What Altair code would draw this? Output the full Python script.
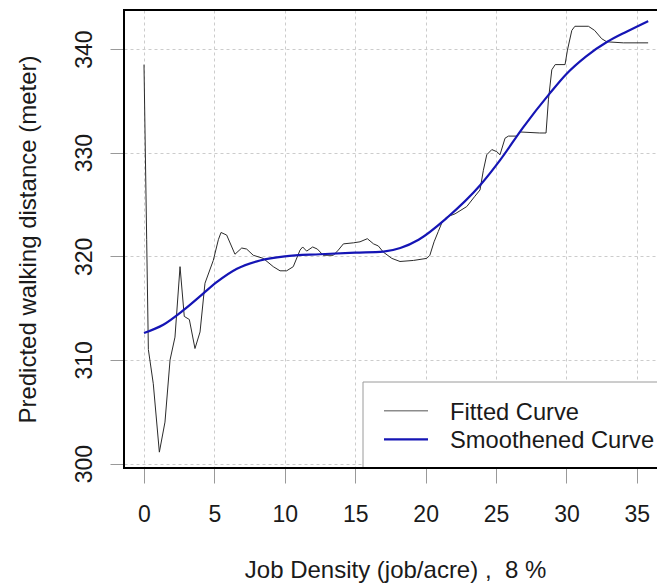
import altair as alt
import pandas as pd

# ---- data ----
fit_x = [0, 0.19, 0.31, 0.66, 1.09, 1.49, 1.85, 2.2, 2.56, 2.86, 3.22, 3.62, 3.98, 4.33,
         4.92, 5.28, 5.47, 5.87, 6.46, 6.94, 7.29, 7.76, 8.47, 9.18, 9.66, 10.13, 10.6,
         11.08, 11.27, 11.55, 11.98, 12.31, 12.73, 13.45, 13.8, 14.16, 14.87, 15.34, 15.86,
         16.3, 16.64, 17.0, 17.6, 18.18, 19.13, 20.08, 20.3, 20.6, 20.9, 21.14, 21.5, 22.09,
         22.92, 23.5, 23.86, 24.1, 24.34, 24.7, 25.05, 25.28, 25.64, 25.88, 26.46, 26.7,
         28.1, 28.55, 28.72, 28.96, 29.2, 29.9, 30.07, 30.38, 30.6, 31.56, 32.0, 32.5,
         32.86, 34.04, 35.8]
fit_y = [338.5, 321.6, 311.0, 307.7, 301.1, 304.0, 310.0, 312.2, 319.0, 314.2, 313.9, 311.1,
         312.7, 317.4, 319.6, 321.6, 322.3, 322.05, 320.2, 320.8, 320.7, 320.1, 319.8, 319.0,
         318.6, 318.6, 319.0, 320.6, 320.9, 320.5, 320.9, 320.7, 320.1, 320.1, 320.6, 321.2,
         321.3, 321.4, 321.7, 321.2, 321.0, 320.4, 319.8, 319.5, 319.6, 319.8, 320.1, 321.4,
         322.4, 323.2, 323.8, 324.1, 324.8, 325.8, 326.4, 328.3, 329.8, 330.3, 330.1, 329.8,
         331.4, 331.6, 331.6, 332.0, 331.9, 331.9, 335.1, 338.0, 338.5, 338.5, 339.9, 341.8,
         342.2, 342.2, 341.8, 341.0, 340.7, 340.6, 340.6]

smooth_x = [0, 1.37, 2.8, 4.2, 5.16, 6.6, 8.24, 10, 12.5, 15, 17, 18.2, 19.5, 21.5, 23.9,
            25.3, 26.9, 28.8, 30, 31.4, 32.9, 34.3, 35.8]
smooth_y = [312.6, 313.4, 314.8, 316.4, 317.5, 318.8, 319.6, 320.0, 320.2, 320.35, 320.45,
            320.8, 321.6, 323.7, 326.9, 329.3, 332.4, 335.7, 337.6, 339.3, 340.7, 341.7, 342.7]

x_ticks = [0, 5, 10, 15, 20, 25, 30, 35]
y_ticks = [300, 310, 320, 330, 340]
legend_labels = ["Fitted Curve", "Smoothened Curve"]
x_title = "Job Density (job/acre) ,\u00a0 8 %"
y_title = "Predicted walking distance (meter)"

# ---- styling ----
W, H = 533, 458
FONT = "Liberation Sans"
TXT = "#1a1a1a"
FIT_COLOR = "#2b2b2b"
SMOOTH_COLOR = "#1515b5"
LEG_FIT_COLOR = "#8c8c8c"

fit_df = pd.DataFrame({"x": fit_x, "y": fit_y})
sm_df = pd.DataFrame({"x": smooth_x, "y": smooth_y})
one = pd.DataFrame({"a": [0]})

xs = alt.Scale(domain=[-1.42, 36.43], nice=False, zero=False)
ys = alt.Scale(domain=[299.57, 343.77], nice=False, zero=False)

x_axis = alt.Axis(values=x_ticks, title=x_title, grid=True, gridColor="#cccccc",
                  gridDash=[3, 3], gridWidth=1, domain=False, tickColor="#999999",
                  tickSize=15, tickWidth=1, labelFontSize=23, labelFont=FONT,
                  labelColor=TXT, labelPadding=38.5, labelBaseline="alphabetic",
                  labelAlign="center", labelFlush=False, labelOverlap=False,
                  titleFont=FONT, titleFontSize=24, titleFontWeight="normal",
                  titleColor=TXT, titleX=271, titleY=109.5, titleAlign="center",
                  titleBaseline="alphabetic")
y_axis = alt.Axis(values=y_ticks, title=y_title, grid=True, gridColor="#cccccc",
                  gridDash=[3, 3], gridWidth=1, domain=False, tickColor="#999999",
                  tickSize=14, tickWidth=1, labelFontSize=23, labelFont=FONT,
                  labelColor=TXT, labelAngle=270, labelPadding=19,
                  labelBaseline="alphabetic", labelAlign="center", labelFlush=False,
                  labelOverlap=False, titleFont=FONT, titleFontSize=24,
                  titleFontWeight="normal", titleColor=TXT, titleAngle=270,
                  titleX=-88.5, titleY=229, titleAlign="center", titleBaseline="alphabetic")

fit_line = alt.Chart(fit_df).mark_line(color=FIT_COLOR, strokeWidth=1).encode(
    x=alt.X("x:Q", scale=xs, axis=x_axis),
    y=alt.Y("y:Q", scale=ys, axis=y_axis),
)
smooth_line = alt.Chart(sm_df).mark_line(color=SMOOTH_COLOR, strokeWidth=2.2,
                                         interpolate="monotone").encode(
    x=alt.X("x:Q", scale=xs),
    y=alt.Y("y:Q", scale=ys),
)

# legend box
leg_box = alt.Chart(one).mark_rect(fill="white", stroke="#9a9a9a", strokeWidth=1).encode(
    x=alt.value(239), x2=alt.value(W + 30), y=alt.value(372), y2=alt.value(H)
)
leg_l1 = alt.Chart(one).mark_rule(color=LEG_FIT_COLOR, strokeWidth=1.5).encode(
    x=alt.value(260), x2=alt.value(304), y=alt.value(400.7)
)
leg_l2 = alt.Chart(one).mark_rule(color=SMOOTH_COLOR, strokeWidth=2.2).encode(
    x=alt.value(260), x2=alt.value(304), y=alt.value(429.3)
)
leg_t1 = alt.Chart(one).mark_text(text=legend_labels[0], font=FONT, fontSize=23.7,
                                  align="left", baseline="alphabetic", color=TXT).encode(
    x=alt.value(326), y=alt.value(410)
)
leg_t2 = alt.Chart(one).mark_text(text=legend_labels[1], font=FONT, fontSize=23.7,
                                  align="left", baseline="alphabetic", color=TXT).encode(
    x=alt.value(326), y=alt.value(438.3)
)

# frame (left, top, bottom; right side is cropped in the reference)
fr_top = alt.Chart(one).mark_rule(color="black", strokeWidth=2).encode(
    x=alt.value(-1), x2=alt.value(W + 10), y=alt.value(0))
fr_bot = alt.Chart(one).mark_rule(color="black", strokeWidth=2).encode(
    x=alt.value(-1), x2=alt.value(W + 10), y=alt.value(H))
fr_left = alt.Chart(one).mark_rule(color="black", strokeWidth=2).encode(
    x=alt.value(0), y=alt.value(-1), y2=alt.value(H + 1))

chart = alt.layer(
    fit_line, smooth_line, leg_box, leg_l1, leg_l2, leg_t1, leg_t2, fr_top, fr_bot, fr_left
).properties(
    width=W, height=H,
    autosize=alt.AutoSizeParams(type="none"),
    padding={"left": 124, "top": 10, "right": 0, "bottom": 116},
    background="white",
).configure_view(stroke=None)

chart.save("out.html", embed_options={"renderer": "svg", "actions": False})
